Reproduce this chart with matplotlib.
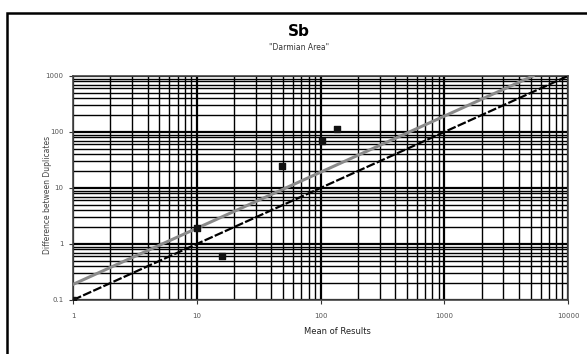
import matplotlib.pyplot as plt
from matplotlib.patches import Rectangle
from matplotlib.ticker import LogLocator, FixedLocator, NullFormatter

# data
mean_results = [1, 10, 16, 49, 102, 135]
difference = [0.1, 1.93, 0.61, 24.7, 69, 112]

ref_x = [1, 10000]
ref_black = [0.1, 1000]
ref_gray_x = [1, 5200]
ref_gray = [0.19, 1000]

x_ticks = [1, 10, 100, 1000, 10000]
x_labels = ["1", "10", "100", "1000", "10000"]
y_ticks = [0.1, 1, 10, 100, 1000]
y_labels = ["0.1", "1", "10", "100", "1000"]

fig = plt.figure(figsize=(5.87, 3.54), dpi=100)
ax = fig.add_axes([73/587, 1-300/354, (568-73)/587, (300-76)/354])

ax.set_xscale("log")
ax.set_yscale("log")
ax.set_xlim(1, 10000)
ax.set_ylim(0.1, 1000)

ax.xaxis.set_major_locator(FixedLocator(x_ticks))
ax.yaxis.set_major_locator(FixedLocator(y_ticks))
ax.xaxis.set_minor_locator(LogLocator(base=10, subs=range(2, 10)))
ax.yaxis.set_minor_locator(LogLocator(base=10, subs=range(2, 10)))
ax.xaxis.set_minor_formatter(NullFormatter())
ax.yaxis.set_minor_formatter(NullFormatter())
ax.set_xticklabels(x_labels, fontsize=5, color="#555555")
ax.set_yticklabels(y_labels, fontsize=5, color="#555555")
ax.tick_params(which="major", length=3, width=0.8, color="#333333")
ax.tick_params(axis="x", pad=6)
ax.tick_params(axis="y", pad=4)
ax.tick_params(which="minor", length=0)

ax.grid(which="major", color="black", linewidth=1.6)
ax.grid(which="minor", color="black", linewidth=1.0)
ax.set_axisbelow(True)
for s in ax.spines.values():
    s.set_color("#444444")
    s.set_linewidth(1.2)

ax.plot(ref_gray_x, ref_gray, color="#8a8a8a", linewidth=2.2, zorder=3)
ax.plot(ref_x, ref_black, color="black", linewidth=1.6, linestyle=(0, (4, 1)), zorder=3)
ax.scatter(mean_results, difference, marker="s", s=22, color="#111111", zorder=4)

fig.text(299/587, 1-31/354, "Sb", fontsize=11, fontweight="bold", ha="center", va="center")
fig.text(299/587, 1-48/354, '"Darmian Area"', fontsize=5.5, ha="center", va="center", color="#333333")
fig.text(337/587, 1-331/354, "Mean of Results", fontsize=6, ha="center", va="center", color="#222222")
fig.text(47/587, 1-195/354, "Difference between Duplicates", fontsize=5.5, rotation=90,
         ha="center", va="center", color="#444444")

fig.patches.append(Rectangle((7/587, -0.1), 1.2, 1-13/354+0.1, transform=fig.transFigure,
                             fill=False, edgecolor="black", linewidth=1.8))

fig.savefig("out.png", dpi=100)
